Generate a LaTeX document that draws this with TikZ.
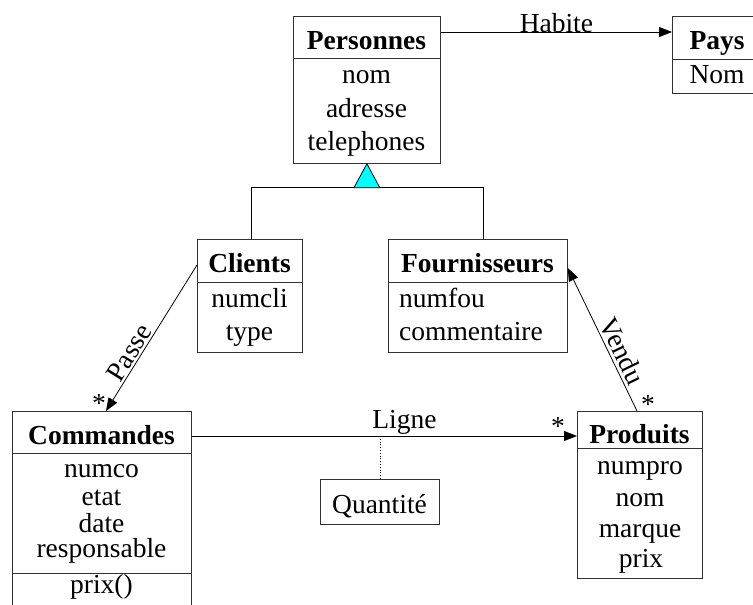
\documentclass[tikz,border=0pt]{standalone}
\usepackage{fontspec}
\setmainfont{Liberation Serif}
\usetikzlibrary{arrows.meta}
\definecolor{inherit}{RGB}{0,255,255}
\begin{document}
\begin{tikzpicture}[x=1pt,y=-1pt,
  classbox/.style={draw=black!80, line width=0.8pt, inner sep=0pt, anchor=north west},
  sep/.style={draw=black!80, line width=0.8pt},
  txt/.style={inner sep=0pt, anchor=base, font=\fontsize{27.5}{32}\selectfont},
  ttl/.style={txt, font=\fontsize{27.5}{32}\selectfont\bfseries},
  assoc/.style={line width=0.8pt, -{Triangle[length=13pt,width=10pt]}},
  rolelabel/.style={inner sep=1.5pt, font=\fontsize{27.5}{32}\selectfont},
  mult/.style={txt}
]
\clip (0,0) rectangle (753,605);

% --- Personnes ---
\node[classbox, minimum width=147pt, minimum height=147pt] (personnes) at (293,16) {};
\draw[sep] ([yshift=-42pt]personnes.north west) -- ([yshift=-42pt]personnes.north east);
\node[ttl] (personnes-t) at (366.5,49) {Personnes};
\node[txt] (personnes-a1) at (366.5,83) {nom};
\node[txt] (personnes-a2) at (366.5,117) {adresse};
\node[txt] (personnes-a3) at (366.5,150) {telephones};

% --- Pays ---
\node[classbox, minimum width=90pt, minimum height=77pt] (pays) at (672,16) {};
\draw[sep] ([yshift=-43pt]pays.north west) -- ([yshift=-43pt]pays.north east);
\node[ttl] (pays-t) at (717,49) {Pays};
\node[txt] (pays-a1) at (717,83) {Nom};

% --- Clients ---
\node[classbox, minimum width=105pt, minimum height=113pt] (clients) at (197,239) {};
\draw[sep] ([yshift=-43pt]clients.north west) -- ([yshift=-43pt]clients.north east);
\node[ttl] (clients-t) at (249.5,272) {Clients};
\node[txt] (clients-a1) at (249.5,307) {numcli};
\node[txt] (clients-a2) at (249.5,340) {type};

% --- Fournisseurs ---
\node[classbox, minimum width=179pt, minimum height=113pt] (fournisseurs) at (388,239) {};
\draw[sep] ([yshift=-43pt]fournisseurs.north west) -- ([yshift=-43pt]fournisseurs.north east);
\node[ttl] (fournisseurs-t) at (477.5,272) {Fournisseurs};
\node[txt, anchor=base west] (fournisseurs-a1) at (399,307) {numfou};
\node[txt, anchor=base west] (fournisseurs-a2) at (399,340) {commentaire};

% --- Commandes ---
\node[classbox, minimum width=179pt, minimum height=210pt] (commandes) at (12,411) {};
\draw[sep] ([yshift=-42pt]commandes.north west) -- ([yshift=-42pt]commandes.north east);
\draw[sep] ([yshift=-162pt]commandes.north west) -- ([yshift=-162pt]commandes.north east);
\node[ttl] (commandes-t) at (101.5,444) {Commandes};
\node[txt] (commandes-a1) at (101.5,477) {numco};
\node[txt] (commandes-a2) at (101.5,505) {etat};
\node[txt] (commandes-a3) at (101.5,532) {date};
\node[txt] (commandes-a4) at (101.5,557) {responsable};
\node[txt] (commandes-m1) at (101.5,593) {prix()};

% --- Produits ---
\node[classbox, minimum width=125pt, minimum height=167pt] (produits) at (577,411) {};
\draw[sep] ([yshift=-37pt]produits.north west) -- ([yshift=-37pt]produits.north east);
\node[ttl] (produits-t) at (639.5,443) {Produits};
\node[txt] (produits-a1) at (640,474) {numpro};
\node[txt] (produits-a2) at (640,506) {nom};
\node[txt] (produits-a3) at (640,537) {marque};
\node[txt] (produits-a4) at (641,567) {prix};

% --- Quantite (association class) ---
\node[classbox, minimum width=119pt, minimum height=45pt] (quantite) at (320,479) {};
\node[txt] (quantite-t) at (379.5,513) {Quantité};

% --- Generalisation ---
\coordinate (gen-l) at (251,187);
\coordinate (gen-r) at (483,187);
\draw[line width=0.8pt] (gen-l |- clients.north) -- (gen-l) -- (gen-r) -- (gen-r |- fournisseurs.north);
\draw[line width=0.8pt, fill=inherit] (personnes.south) -- ++(-13,24) -- ++(26,0) -- cycle;

% --- Associations ---
\draw[assoc] ([yshift=-16pt]personnes.north east) -- ([yshift=-16pt]pays.north west)
  node[midway, txt] (habite) {Habite};

\draw[assoc] ([yshift=-26pt]clients.north west) -- ([xshift=94pt]commandes.north west)
  node[pos=0.64, sloped, above, rolelabel] (passe) {Passe};

\draw[assoc] ([yshift=-25pt]commandes.north east) -- ([yshift=-25pt]produits.north west)
  node[pos=0.552, txt, yshift=8pt] (ligne) {Ligne}
  coordinate[pos=0.49] (ligne-mid);
\draw[line width=0.8pt, dotted] (ligne-mid) -- (ligne-mid |- quantite.north);

\draw[assoc] ([xshift=60pt]produits.north west) -- ([yshift=-29pt]fournisseurs.north east)
  node[pos=0.38, sloped, above, rolelabel, inner sep=3pt] (vendu) {Vendu};

% --- Multiplicities ---
\node[mult] (m-passe) at (99,412) {*};
\node[mult] (m-ligne) at (558,435) {*};
\node[mult] (m-vendu) at (648,413) {*};
\end{tikzpicture}
\end{document}
